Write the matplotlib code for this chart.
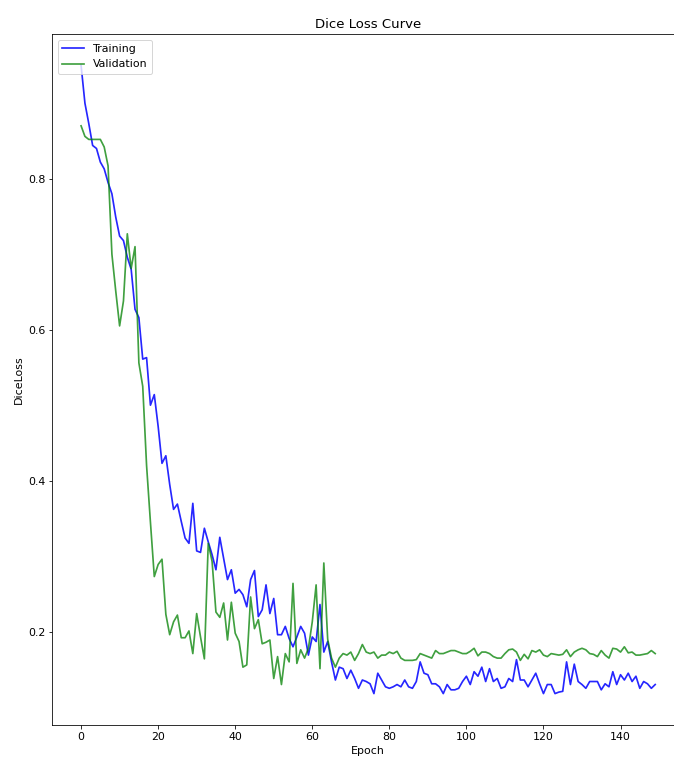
import numpy as np
import matplotlib
matplotlib.use("Agg")
import matplotlib.pyplot as plt

plt.rcParams["font.size"] = 11

# per-epoch dice loss, 150 epochs
train_loss = [
    0.950, 0.900, 0.873, 0.844, 0.840, 0.822, 0.813, 0.795, 0.780, 0.749,
    0.724, 0.718, 0.696, 0.680, 0.627, 0.616, 0.561, 0.563, 0.500, 0.514,
    0.472, 0.423, 0.433, 0.395, 0.362, 0.369, 0.346, 0.324, 0.317, 0.370,
    0.307, 0.305, 0.337, 0.319, 0.302, 0.282, 0.325, 0.297, 0.269, 0.282,
    0.251, 0.256, 0.249, 0.233, 0.269, 0.281, 0.220, 0.229, 0.262, 0.224,
    0.244, 0.196, 0.196, 0.207, 0.191, 0.180, 0.193, 0.207, 0.198, 0.169,
    0.193, 0.187, 0.236, 0.173, 0.187, 0.160, 0.136, 0.153, 0.151, 0.138,
    0.149, 0.138, 0.125, 0.136, 0.134, 0.131, 0.118, 0.145, 0.136, 0.127,
    0.125, 0.127, 0.130, 0.127, 0.136, 0.127, 0.125, 0.134, 0.160, 0.145,
    0.143, 0.131, 0.131, 0.127, 0.118, 0.130, 0.123, 0.123, 0.125, 0.134,
    0.141, 0.130, 0.147, 0.141, 0.153, 0.134, 0.151, 0.134, 0.138, 0.125,
    0.127, 0.138, 0.134, 0.163, 0.136, 0.136, 0.127, 0.136, 0.145, 0.131,
    0.118, 0.130, 0.130, 0.118, 0.120, 0.121, 0.160, 0.130, 0.157, 0.134,
    0.130, 0.125, 0.134, 0.134, 0.134, 0.123, 0.131, 0.127, 0.147, 0.130,
    0.143, 0.136, 0.145, 0.134, 0.141, 0.125, 0.134, 0.131, 0.125, 0.130,
]

val_loss = [
    0.870, 0.856, 0.852, 0.852, 0.852, 0.852, 0.842, 0.817, 0.700, 0.651,
    0.605, 0.638, 0.727, 0.681, 0.710, 0.556, 0.525, 0.420, 0.345, 0.273,
    0.289, 0.296, 0.223, 0.196, 0.213, 0.222, 0.192, 0.192, 0.201, 0.171,
    0.224, 0.193, 0.164, 0.317, 0.293, 0.226, 0.219, 0.238, 0.189, 0.239,
    0.198, 0.187, 0.153, 0.156, 0.246, 0.204, 0.216, 0.184, 0.186, 0.189,
    0.138, 0.167, 0.130, 0.171, 0.160, 0.264, 0.158, 0.176, 0.165, 0.178,
    0.213, 0.262, 0.151, 0.291, 0.190, 0.165, 0.153, 0.165, 0.171, 0.169,
    0.173, 0.162, 0.171, 0.183, 0.173, 0.171, 0.173, 0.165, 0.169, 0.169,
    0.173, 0.171, 0.174, 0.165, 0.162, 0.162, 0.162, 0.163, 0.171, 0.169,
    0.167, 0.165, 0.175, 0.171, 0.171, 0.173, 0.175, 0.175, 0.173, 0.171,
    0.171, 0.174, 0.178, 0.168, 0.173, 0.173, 0.171, 0.167, 0.165, 0.165,
    0.171, 0.176, 0.177, 0.173, 0.162, 0.170, 0.164, 0.175, 0.173, 0.176,
    0.169, 0.167, 0.171, 0.170, 0.169, 0.170, 0.176, 0.167, 0.173, 0.176,
    0.178, 0.176, 0.171, 0.170, 0.167, 0.175, 0.169, 0.165, 0.178, 0.177,
    0.173, 0.180, 0.172, 0.173, 0.169, 0.169, 0.170, 0.171, 0.175, 0.171,
]

epochs = np.arange(len(train_loss))

fig = plt.figure(figsize=(674 / 72, 761 / 72), dpi=72)
ax = fig.add_axes([0.0777, 0.0473, 0.937, 0.908])

ax.plot(epochs, train_loss, color="b", alpha=0.85, linewidth=1.7, label="Training")
ax.plot(epochs, val_loss, color="g", alpha=0.75, linewidth=1.7, label="Validation")

ax.set_title("Dice Loss Curve")
ax.set_xlabel("Epoch")
ax.set_ylabel("DiceLoss")
ax.set_xticks(np.arange(0, 141, 20))
ax.set_yticks([0.2, 0.4, 0.6, 0.8])
ax.legend(loc="upper left")

fig.savefig("out.png", dpi=72)
